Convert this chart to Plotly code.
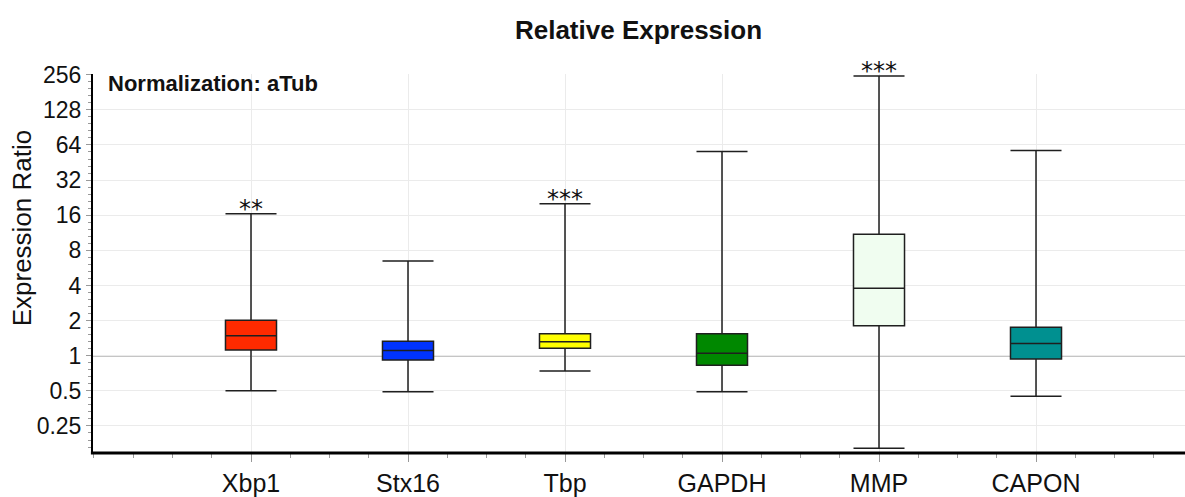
import math
import plotly.graph_objects as go

# ---- data ----
genes = ["Xbp1", "Stx16", "Tbp", "GAPDH", "MMP", "CAPON"]
lower_whisker = [0.50, 0.49, 0.74, 0.49, 0.161, 0.449]
q1 = [1.12, 0.92, 1.16, 0.83, 1.81, 0.937]
median = [1.48, 1.11, 1.32, 1.05, 3.78, 1.27]
q3 = [2.01, 1.33, 1.54, 1.54, 11.0, 1.75]
upper_whisker = [16.5, 6.49, 20.1, 56.2, 250.0, 57.3]
significance = ["**", "", "***", "", "***", ""]
colors = ["#ff2a00", "#0033ff", "#ffff00", "#008800", "#f0fdf0", "#009090"]
y_tick_values = [0.25, 0.5, 1, 2, 4, 8, 16, 32, 64, 128, 256]
y_tick_labels = ["0.25", "0.5", "1", "2", "4", "8", "16", "32", "64", "128", "256"]

positions = list(range(1, len(genes) + 1))

fig = go.Figure()
for i, g in enumerate(genes):
    fig.add_trace(go.Box(
        x=[positions[i]], name=g,
        q1=[q1[i]], median=[median[i]], q3=[q3[i]],
        lowerfence=[lower_whisker[i]], upperfence=[upper_whisker[i]],
        fillcolor=colors[i],
        line=dict(color="#1f1f1f", width=1.5),
        width=0.325, whiskerwidth=1.0,
        boxpoints=False, hoverinfo="skip", showlegend=False,
    ))

for i, s in enumerate(significance):
    if s:
        fig.add_annotation(
            x=positions[i], y=math.log10(upper_whisker[i]), yref="y", xref="x",
            text=s, showarrow=False, yanchor="bottom", yshift=-11,
            font=dict(family="DejaVu Sans", size=24, color="#111"),
        )

# minor y ticks (equally spaced in log2 space)
minor_y = []
for k in range(-3, 9):
    for j in range(1, 5):
        v = 2 ** (k + j / 5)
        if 2 ** -2.77 < v < 2 ** 8.02:
            minor_y.append(v)

# reference line at ratio 1
fig.add_shape(type="line", xref="paper", x0=0, x1=1, yref="y", y0=1, y1=1,
              line=dict(color="#8c8c8c", width=1.5), layer="below")
# axis lines
fig.add_shape(type="line", xref="paper", x0=0, x1=0, yref="paper", y0=0, y1=1,
              line=dict(color="#000", width=2))
fig.add_shape(type="line", xref="paper", x0=-0.001, x1=1, yref="paper", y0=0, y1=0,
              line=dict(color="#000", width=3))

fig.add_annotation(
    xref="paper", yref="paper", x=0.013, y=1, yanchor="middle", xanchor="left",
    yshift=-9, text="<b>Normalization: aTub</b>", showarrow=False,
    font=dict(family="Liberation Sans", size=22, color="#111"),
)
fig.add_annotation(
    xref="paper", yref="paper", x=-0.064, y=0.593, xanchor="center", yanchor="middle",
    text="Expression Ratio", textangle=-90, showarrow=False,
    font=dict(family="Liberation Sans", size=26, color="#111"),
)

fig.update_layout(
    width=1185, height=497,
    margin=dict(l=92, r=0, t=74, b=44),
    plot_bgcolor="white", paper_bgcolor="white",
    title=dict(text="<b>Relative Expression</b>", x=0.5, xref="paper", xanchor="center",
               y=1 - 30 / 497, yref="container", yanchor="middle",
               font=dict(family="Liberation Sans", size=26, color="#111")),
    font=dict(family="Liberation Sans", color="#111"),
    xaxis=dict(
        range=[-0.0127, 6.949],
        tickvals=positions, ticktext=genes,
        tickfont=dict(size=25, color="#111"),
        showgrid=True, gridcolor="#ebebeb", gridwidth=1,
        zeroline=False, showline=False,
        ticks="outside", ticklen=8, tickcolor="#999", tickwidth=1,
        minor=dict(dtick=0.25, tick0=0, ticks="outside", ticklen=4,
                   tickcolor="#999", showgrid=False),
    ),
    yaxis=dict(
        type="log",
        range=[math.log10(2 ** -2.77), math.log10(2 ** 8.02)],
        tickvals=y_tick_values, ticktext=y_tick_labels,
        tickfont=dict(size=23, color="#111"),
        showgrid=True, gridcolor="#ebebeb", gridwidth=1,
        zeroline=False, showline=False,
        ticks="outside", ticklen=5, tickcolor="#999", tickwidth=1,
        minor=dict(tickvals=minor_y, ticks="outside", ticklen=3,
                   tickcolor="#999", showgrid=False),
    ),
)

fig.write_html("out.html", config={"displayModeBar": False},
               post_script="document.body.style.margin='0';")
